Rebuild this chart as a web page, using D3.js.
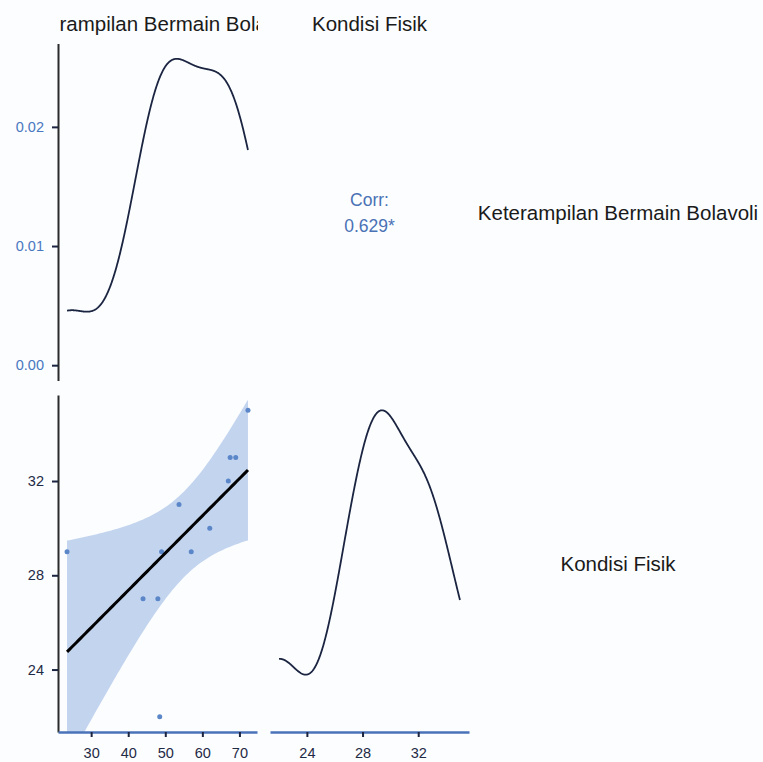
<!DOCTYPE html>
<html>
<head>
<meta charset="utf-8">
<script src="https://cdn.jsdelivr.net/npm/d3@7"></script>
<style>
  html, body { margin: 0; padding: 0; background: #fbfdff; }
  svg { display: block; font-family: "Liberation Sans", Arial, sans-serif; }
</style>
</head>
<body>
<div id="chart"></div>
<script>
// variable names (strip labels)
const varNames = ["Keterampilan Bermain Bolavoli", "Kondisi Fisik"];

const keterampilan = [23.5, 72.3, 67.5, 69, 67, 53.7, 62, 49, 57, 44, 48, 48.5];
const kondisi      = [29,   35,   33,   33, 32, 31,   30, 29, 29, 27, 27, 22];

// tick labels
const densityTicks = [0, 0.01, 0.02];
const keterampilanTicks = [30, 40, 50, 60, 70];
const kondisiTicks = [24, 28, 32];

const corrTitle = "Corr:";
const corrStars = "*";
const tCrit = 2.228; // qt(0.975, df = 10)

class PairsPlot {
  constructor(opts) {
    this.element = document.querySelector(opts.element);
    this.width = 763;
    this.height = 762;

    this.cols = [[58, 257], [270, 469]];
    this.rows = [[43.5, 380.5], [395, 732]];

    this.lineColor = "#1b2440";
    this.pointColor = "#5b87c9";
    this.bandColor = "#c3d4ef";
    this.axisBlue = "#4a72b8";
    this.labelBlue = "#4a78c0";
    this.labelDark = "#1f2a44";

    this.draw();
  }

  expand(ext) {
    const pad = (ext[1] - ext[0]) * 0.05;
    return [ext[0] - pad, ext[1] + pad];
  }

  kde(values) {
    const n = values.length;
    const sorted = values.slice().sort(d3.ascending);
    const iqr = d3.quantile(sorted, 0.75) - d3.quantile(sorted, 0.25);
    const bw = 0.9 * Math.min(d3.deviation(values), iqr / 1.34) * Math.pow(n, -0.2);
    const [lo, hi] = d3.extent(values);
    const pts = [];
    for (let i = 0; i < 512; i++) {
      const x = lo + (hi - lo) * i / 511;
      const y = d3.sum(values, v => Math.exp(-0.5 * ((x - v) / bw) ** 2)) / (n * bw * Math.sqrt(2 * Math.PI));
      pts.push([x, y]);
    }
    return pts;
  }

  draw() {
    this.svg = d3.select(this.element).append("svg")
      .attr("width", this.width)
      .attr("height", this.height)
      .attr("viewBox", [0, 0, this.width, this.height]);

    this.svg.append("rect")
      .attr("width", this.width).attr("height", this.height)
      .attr("fill", "#fbfdff");

    this.xK = d3.scaleLinear().domain(this.expand(d3.extent(keterampilan))).range(this.cols[0]);
    this.xF = d3.scaleLinear().domain(this.expand(d3.extent(kondisi))).range(this.cols[1]);
    this.yF = d3.scaleLinear().domain(this.expand(d3.extent(kondisi))).range([this.rows[1][1], this.rows[1][0]]);

    this.drawStrips();
    this.drawDensityTop();
    this.drawCorr();
    this.drawScatter();
    this.drawDensityBottom();
  }

  drawStrips() {
    const defs = this.svg.append("defs");
    defs.append("clipPath").attr("id", "strip1")
      .append("rect").attr("x", 60).attr("y", 0)
      .attr("width", 198).attr("height", 43);

    const top = this.svg.append("g")
      .attr("font-size", 20.5).attr("fill", "#1a1a1a").attr("text-anchor", "middle");
    top.append("text")
      .attr("clip-path", "url(#strip1)")
      .attr("x", d3.mean(this.cols[0])).attr("y", 30.5)
      .text(varNames[0]);
    top.append("text")
      .attr("x", d3.mean(this.cols[1])).attr("y", 30.5)
      .text(varNames[1]);

    const right = this.svg.append("g")
      .attr("font-size", 20.5).attr("fill", "#1a1a1a").attr("text-anchor", "middle");
    right.append("text").attr("x", 618).attr("y", d3.mean(this.rows[0]) + 7.5).text(varNames[0]);
    right.append("text").attr("x", 618).attr("y", d3.mean(this.rows[1]) + 7.5).text(varNames[1]);
  }

  styleAxis(g, labelColor, domainColor, domainWidth) {
    g.attr("font-family", null).attr("font-size", 14.5);
    g.select(".domain").attr("stroke", domainColor).attr("stroke-width", domainWidth);
    g.selectAll(".tick line").attr("stroke", this.lineColor).attr("stroke-width", 2);
    g.selectAll(".tick text").attr("fill", labelColor);
  }

  drawDensityTop() {
    const dens = this.kde(keterampilan);
    const y = d3.scaleLinear()
      .domain(this.expand([0, d3.max(dens, d => d[1])]))
      .range([this.rows[0][1], this.rows[0][0]]);

    this.svg.append("path")
      .datum(dens)
      .attr("fill", "none")
      .attr("stroke", this.lineColor)
      .attr("stroke-width", 1.8)
      .attr("d", d3.line().x(d => this.xK(d[0])).y(d => y(d[1])));

    const ax = this.svg.append("g")
      .attr("transform", `translate(${this.cols[0][0]},0)`)
      .call(d3.axisLeft(y).tickValues(densityTicks).tickFormat(d3.format(".2f"))
        .tickSize(6).tickSizeOuter(0).tickPadding(8));
    this.styleAxis(ax, this.labelBlue, "#2b2b2b", 2);
  }

  drawCorr() {
    const r = d3.sum(keterampilan, (x, i) => (x - d3.mean(keterampilan)) * (kondisi[i] - d3.mean(kondisi))) /
      ((keterampilan.length - 1) * d3.deviation(keterampilan) * d3.deviation(kondisi));
    const cx = d3.mean(this.cols[1]);
    const cy = d3.mean(this.rows[0]);
    const g = this.svg.append("g")
      .attr("font-size", 17.5).attr("fill", "#4a72b5").attr("text-anchor", "middle");
    g.append("text").attr("x", cx).attr("y", cy - 6).text(corrTitle);
    g.append("text").attr("x", cx).attr("y", cy + 20).text(d3.format(".3f")(r) + corrStars);
  }

  drawScatter() {
    const n = keterampilan.length;
    const mx = d3.mean(keterampilan), my = d3.mean(kondisi);
    const sxx = d3.sum(keterampilan, x => (x - mx) ** 2);
    const sxy = d3.sum(keterampilan, (x, i) => (x - mx) * (kondisi[i] - my));
    const slope = sxy / sxx;
    const icpt = my - slope * mx;
    const rss = d3.sum(keterampilan, (x, i) => (kondisi[i] - (icpt + slope * x)) ** 2);
    const s = Math.sqrt(rss / (n - 2));

    const [lo, hi] = d3.extent(keterampilan);
    const fit = d3.range(80).map(i => {
      const x = lo + (hi - lo) * i / 79;
      const yhat = icpt + slope * x;
      const se = s * Math.sqrt(1 / n + (x - mx) ** 2 / sxx);
      return { x, yhat, lo: yhat - tCrit * se, hi: yhat + tCrit * se };
    });

    this.svg.select("defs").append("clipPath").attr("id", "scatterClip")
      .append("rect")
      .attr("x", this.cols[0][0]).attr("y", this.rows[1][0])
      .attr("width", this.cols[0][1] - this.cols[0][0])
      .attr("height", this.rows[1][1] - this.rows[1][0]);

    const panel = this.svg.append("g").attr("clip-path", "url(#scatterClip)");

    panel.append("path")
      .datum(fit)
      .attr("fill", this.bandColor)
      .attr("d", d3.area().x(d => this.xK(d.x)).y0(d => this.yF(d.lo)).y1(d => this.yF(d.hi)));

    panel.selectAll("circle")
      .data(keterampilan.map((x, i) => [x, kondisi[i]]))
      .join("circle")
      .attr("cx", d => this.xK(d[0]))
      .attr("cy", d => this.yF(d[1]))
      .attr("r", 2.5)
      .attr("fill", this.pointColor);

    panel.append("path")
      .datum(fit)
      .attr("fill", "none")
      .attr("stroke", "#000")
      .attr("stroke-width", 3)
      .attr("d", d3.line().x(d => this.xK(d.x)).y(d => this.yF(d.yhat)));

    const ay = this.svg.append("g")
      .attr("transform", `translate(${this.cols[0][0]},0)`)
      .call(d3.axisLeft(this.yF).tickValues(kondisiTicks).tickSize(6).tickSizeOuter(0).tickPadding(8));
    this.styleAxis(ay, this.labelDark, "#2b2b2b", 2);

    const ax = this.svg.append("g")
      .attr("transform", `translate(0,${this.rows[1][1]})`)
      .call(d3.axisBottom(this.xK).tickValues(keterampilanTicks).tickSize(5).tickSizeOuter(0).tickPadding(11));
    this.styleAxis(ax, this.labelDark, this.axisBlue, 2.5);
  }

  drawDensityBottom() {
    const dens = this.kde(kondisi);
    const y = d3.scaleLinear()
      .domain(this.expand([0, d3.max(dens, d => d[1])]))
      .range([this.rows[1][1], this.rows[1][0]]);

    this.svg.append("path")
      .datum(dens)
      .attr("fill", "none")
      .attr("stroke", this.lineColor)
      .attr("stroke-width", 1.8)
      .attr("d", d3.line().x(d => this.xF(d[0])).y(d => y(d[1])));

    const ax = this.svg.append("g")
      .attr("transform", `translate(0,${this.rows[1][1]})`)
      .call(d3.axisBottom(this.xF).tickValues(kondisiTicks).tickSize(5).tickSizeOuter(0).tickPadding(11));
    this.styleAxis(ax, this.labelDark, this.axisBlue, 2.5);
  }
}

new PairsPlot({ element: "#chart" });
</script>
</body>
</html>
